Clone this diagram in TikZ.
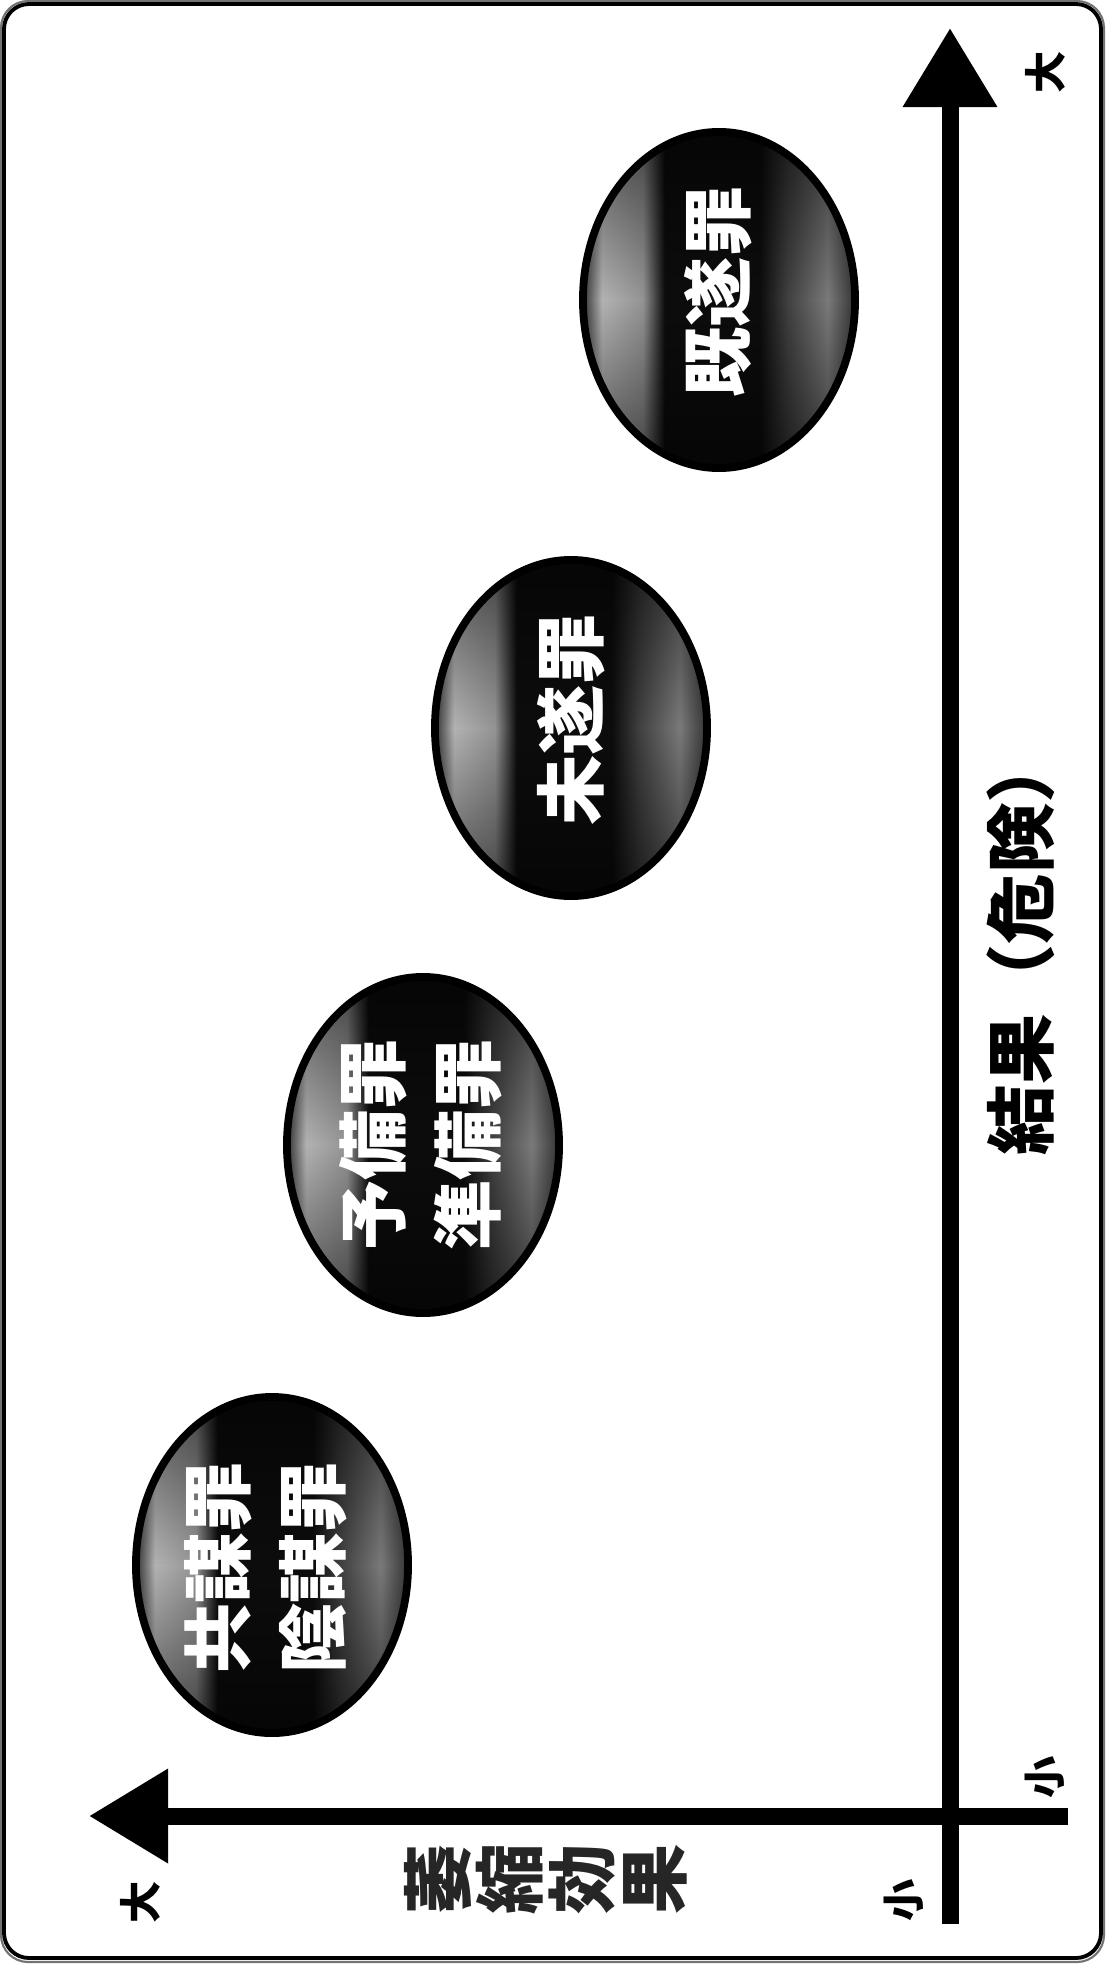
\documentclass[tikz,border=0pt]{standalone}
\usepackage{fontspec}
\newfontfamily\jp{Noto Sans CJK JP}
\usetikzlibrary{arrows.meta,shapes.geometric,fadings}
\pgfdeclarehorizontalshading{ballshade}{100bp}{%
  color(0bp)=(black!80); color(25bp)=(black!80); color(28.5bp)=(black!30);
  color(36bp)=(black!42); color(40bp)=(black!95); color(57.5bp)=(black!95);
  color(62.5bp)=(black!75); color(70bp)=(black!52); color(75bp)=(black!80);
  color(100bp)=(black!80)}
\tikzfading[name=tbfade, top color=transparent!45, bottom color=transparent!45, middle color=transparent!100]
\tikzset{
  ball/.style={ellipse, draw=black, line width=2.2pt, minimum width=2.72cm,
    minimum height=3.36cm, inner sep=0pt, shade, shading=ballshade},
  balldark/.style={fill=black, path fading=tbfade},
  balltxt/.style={rotate=90, text=white, align=center, inner sep=0pt,
    font=\jp\bfseries\fontsize{20pt}{27pt}\selectfont},
  axis/.style={line width=0.17cm, -{Triangle[width=0.9cm,length=0.79cm]}},
  axlbl/.style={rotate=90, inner sep=0pt, font=\jp\bfseries\fontsize{12pt}{12pt}\selectfont},
  bigtxt/.style={rotate=90, inner sep=0pt, align=center,
    font=\jp\bfseries\fontsize{20pt}{20.5pt}\selectfont}
}
\begin{document}
\begin{tikzpicture}[x=0.01cm, y=-0.01cm]
\useasboundingbox (0,0) rectangle (1105,1964);
% frame
\draw[line width=0.6pt, black!55, rounded corners=0.27cm] (1,1) rectangle (1104,1962);
\draw[line width=1.1pt, rounded corners=0.25cm] (4,4) rectangle (1101,1958);
% ellipses
\node[ball] (b1) at (719,300) {};
\node[ball] (b2) at (571,728) {};
\node[ball] (b3) at (423,1145) {};
\node[ball] (b4) at (272,1565) {};
\foreach \b in {b1,b2,b3,b4}{
  \path[balldark] (\b.center) ellipse [x radius=1.345cm, y radius=1.665cm];
}
\node[balltxt] (t1) at (718,292) {既遂罪};
\node[balltxt] (t2) at (571,720) {未遂罪};
\node[balltxt] (t3) at (421,1145) {予備罪\\準備罪};
\node[balltxt] (t4) at (266,1568) {共謀罪\\陰謀罪};
% axes
\coordinate (vb) at (950,1924);
\coordinate (vt) at (950,28);
\coordinate (hr) at (1068,1816);
\coordinate (hl) at (89,1816);
\draw[axis] (vb) -- (vt);
\draw[axis] (hr) -- (hl);
% labels
\node[axlbl] (ytop) at (1045,72) {大};
\node[axlbl] (ybot) at (1045,1777) {小};
\node[axlbl] (xbot) at (904,1900) {小};
\node[axlbl] (xtop) at (140,1902) {大};
\node[bigtxt, text=black!85] (xlab) at (546,1879) {萎\\縮\\効\\果};
\node[bigtxt] (ylab) at (1021,944) {結果（危険）};
\end{tikzpicture}
\end{document}
